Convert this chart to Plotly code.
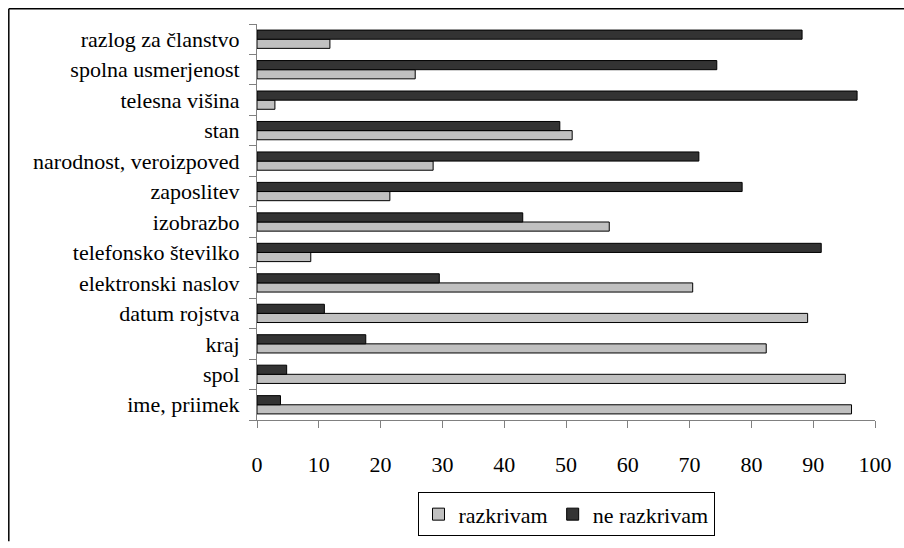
import plotly.graph_objects as go

# Categories listed bottom to top
categories = [
    "ime, priimek", "spol", "kraj", "datum rojstva", "elektronski naslov",
    "telefonsko številko", "izobrazbo", "zaposlitev", "narodnost, veroizpoved",
    "stan", "telesna višina", "spolna usmerjenost", "razlog za članstvo",
]
razkrivam = [96.2, 95.2, 82.4, 89.1, 70.5, 8.7, 57.0, 21.5, 28.5, 51.0, 2.9, 25.6, 11.8]
ne_razkrivam = [3.8, 4.8, 17.6, 10.9, 29.5, 91.3, 43.0, 78.5, 71.5, 49.0, 97.1, 74.4, 88.2]

FONT = "Liberation Serif, Times New Roman, serif"
FS = 22
TXT = "#000000"
W, H = 904, 548
ML, MR, MT, MB = 257, 27, 24, 119
PW, PH = W - ML - MR, H - MT - MB

fig = go.Figure()
fig.add_trace(go.Bar(
    y=categories, x=razkrivam, orientation="h", name="razkrivam",
    marker=dict(color="#c0c0c0", line=dict(color="#000000", width=1)),
))
fig.add_trace(go.Bar(
    y=categories, x=ne_razkrivam, orientation="h", name="ne razkrivam",
    marker=dict(color="#333333", line=dict(color="#000000", width=1)),
))


def px_x(p):
    return (p - ML) / PW


def px_y(p):
    return 1 - (p - MT) / PH


# Outer frame: left and top edges of the chart border
frame = dict(type="line", xref="paper", yref="paper",
             line=dict(color="#000000", width=1.5), layer="below")
fig.add_shape(x0=px_x(8), x1=px_x(8), y0=px_y(H + 5), y1=px_y(8.5), **frame)
fig.add_shape(x0=px_x(8), x1=px_x(W + 5), y0=px_y(8.5), y1=px_y(8.5), **frame)

fig.update_layout(
    width=W, height=H,
    margin=dict(l=ML, r=MR, t=MT, b=MB, pad=0),
    paper_bgcolor="white", plot_bgcolor="white",
    barmode="group", bargap=0.40, bargroupgap=0,
    font=dict(family=FONT, size=FS, color=TXT),
    showlegend=True,
    legend=dict(
        orientation="h", x=0.5, xanchor="center", y=px_y(503), yanchor="top",
        bordercolor="#000000", borderwidth=1, bgcolor="white",
        font=dict(family=FONT, size=FS, color=TXT),
        traceorder="normal", itemwidth=30,
    ),
    xaxis=dict(
        range=[0, 100], dtick=10, tick0=0,
        showgrid=False, zeroline=False,
        showline=True, linecolor="#808080", linewidth=1,
        ticks="outside", ticklen=7, tickcolor="#808080",
        ticklabelstandoff=18,
        tickfont=dict(family=FONT, size=FS, color=TXT),
        fixedrange=True,
    ),
    yaxis=dict(
        type="category", categoryorder="array", categoryarray=categories,
        showgrid=False, zeroline=False,
        showline=True, linecolor="#808080", linewidth=1,
        ticks="outside", ticklen=7, tickcolor="#808080",
        tickson="boundaries", ticklabelstandoff=12,
        tickfont=dict(family=FONT, size=FS, color=TXT),
        fixedrange=True,
    ),
)

fig.write_html("out.html")
